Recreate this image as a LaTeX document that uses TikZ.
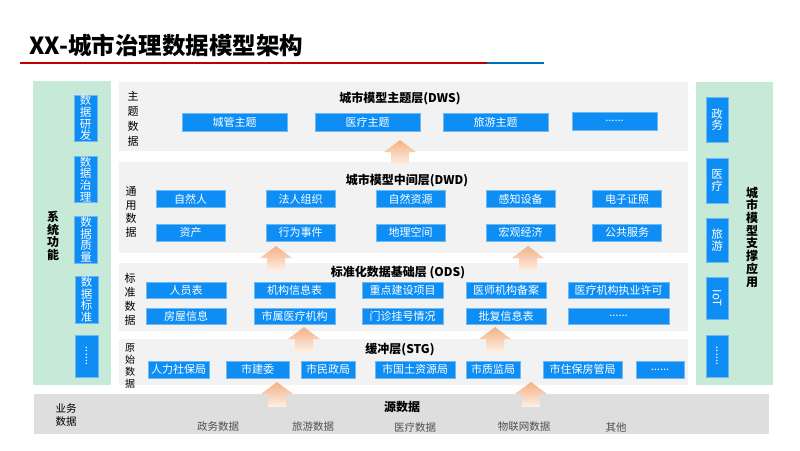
\documentclass[tikz,border=0pt]{standalone}
\usepackage{fontspec}
\setmainfont{Noto Sans CJK SC}
\usepackage{tikz}
\usepackage{xcolor}

\definecolor{boxblue}{RGB}{14,142,245}
\definecolor{boxedge}{RGB}{110,185,240}
\definecolor{laygray}{RGB}{242,242,242}
\definecolor{srcgray}{RGB}{222,222,222}
\definecolor{panelgreen}{RGB}{199,234,216}
\definecolor{arrtop}{RGB}{244,177,131}
\definecolor{arrbot}{RGB}{253,240,230}
\definecolor{titlered}{RGB}{192,0,0}
\definecolor{titleblue}{RGB}{0,112,192}
\definecolor{srctext}{RGB}{80,80,80}

\begin{document}
\begin{tikzpicture}[x=1pt,y=-1pt,
	layer/.style={fill=laygray, draw=none, inner sep=0},
	bbox/.style={fill=boxblue, draw=boxedge, line width=0.5pt, text=white, inner sep=0, font=\fontsize{11}{12}\selectfont},
	vbox/.style={fill=boxblue, draw=boxedge, line width=0.5pt, text=white, inner sep=0, minimum width=23, align=center, font=\fontsize{11.5}{11.7}\selectfont},
	ltitle/.style={font=\bfseries\fontsize{12}{14}\selectfont},
	vlabel/.style={align=center, inner sep=0},
	srcitem/.style={text=srctext, font=\fontsize{10.5}{12}\selectfont},
	uparr/.pic={\shade[top color=arrtop, bottom color=arrbot]
		(-16,12) -- (0,0) -- (16,12) -- (9,12) -- (9,25) -- (-9,25) -- (-9,12) -- cycle;}]
\useasboundingbox (0,0) rectangle (800,450);
\fill[white] (0,0) rectangle (800,450);

% title
\node[anchor=west, font=\bfseries\fontsize{23.5}{26}\selectfont] (title) at (26,45) {XX-城市治理数据模型架构};
\coordinate (lineA) at (20,63);
\coordinate (lineB) at (487,63);
\coordinate (lineC) at (544,63);
\draw[titlered, line width=2.2pt] (lineA) -- (lineB);
\draw[titleblue, line width=2.2pt] (lineB) -- (lineC);

% side panels
\node[fill=panelgreen, inner sep=0, minimum width=78, minimum height=304] (sysP) at (72,233) {};
\node[fill=panelgreen, inner sep=0, minimum width=77, minimum height=303] (appP) at (734.5,233.5) {};
\node[vlabel, font=\bfseries\fontsize{12}{12.5}\selectfont] (sysT) at (53,236) {系\\统\\功\\能};
\node[vlabel, font=\bfseries\fontsize{12}{12.7}\selectfont] (appT) at (752,237) {城\\市\\模\\型\\支\\撑\\应\\用};

\node[vbox, minimum height=46] (sys1) at (85.5,118) {数\\据\\研\\发};
\node[vbox, minimum height=46] (sys2) at (85.5,179) {数\\据\\治\\理};
\node[vbox, minimum height=47] (sys3) at (86,239.5) {数\\据\\质\\量};
\node[vbox, minimum height=47] (sys4) at (86.5,299.5) {数\\据\\标\\准};
\node[vbox, minimum height=42] (sys5) at (86.5,356) {\rotatebox{90}{......}};

\node[vbox, minimum width=22, minimum height=45] (app1) at (717,119.5) {政\\务};
\node[vbox, minimum width=22, minimum height=45] (app2) at (717,180.5) {医\\疗};
\node[vbox, minimum width=22, minimum height=44] (app3) at (717,240) {旅\\游};
\node[vbox, minimum width=22, minimum height=42] (app4) at (717,298) {\rotatebox{-90}{IoT}};
\node[vbox, minimum width=22, minimum height=42] (app5) at (717,356) {\rotatebox{90}{......}};

% layers
\node[layer, minimum width=569, minimum height=69] (dws) at (403.5,116.5) {};
\node[layer, minimum width=569, minimum height=91] (dwd) at (403.5,207.5) {};
\node[layer, minimum width=569, minimum height=68] (ods) at (403.5,297) {};
\node[layer, minimum width=569, minimum height=46] (stg) at (403.5,362) {};
\node[fill=srcgray, inner sep=0, minimum width=735, minimum height=40] (src) at (401.5,414) {};

% DWS
\node[ltitle] (dwsT) at (400,99) {城市模型主题层(DWS)};
\node[vlabel, font=\fontsize{11}{15}\selectfont] (dwsL) at (133,118.5) {主\\题\\数\\据};
\node[bbox, minimum width=105, minimum height=18] (dws1) at (234.5,122) {城管主题};
\node[bbox, minimum width=105, minimum height=18] (dws2) at (367.5,122) {医疗主题};
\node[bbox, minimum width=105, minimum height=18] (dws3) at (495.5,122) {旅游主题};
\node[bbox, minimum width=85, minimum height=18] (dws4) at (614.5,121) {......};

% DWD
\node[ltitle] (dwdT) at (407,181) {城市模型中间层(DWD)};
\node[vlabel, font=\fontsize{11}{13.8}\selectfont] (dwdL) at (131,212) {通\\用\\数\\据};
\node[bbox, minimum width=69, minimum height=17] (dwd1) at (190.5,199) {自然人};
\node[bbox, minimum width=69, minimum height=17] (dwd2) at (300.5,199) {法人组织};
\node[bbox, minimum width=69, minimum height=17] (dwd3) at (410.5,199) {自然资源};
\node[bbox, minimum width=69, minimum height=17] (dwd4) at (520.5,199) {感知设备};
\node[bbox, minimum width=69, minimum height=17] (dwd5) at (627,199) {电子证照};
\node[bbox, minimum width=69, minimum height=17] (dwd6) at (190.5,232.5) {资产};
\node[bbox, minimum width=69, minimum height=17] (dwd7) at (300.5,232.5) {行为事件};
\node[bbox, minimum width=69, minimum height=17] (dwd8) at (410.5,232.5) {地理空间};
\node[bbox, minimum width=69, minimum height=17] (dwd9) at (520.5,232.5) {宏观经济};
\node[bbox, minimum width=69, minimum height=17] (dwd10) at (627,232.5) {公共服务};

% ODS
\node[ltitle] (odsT) at (398,273) {标准化数据基础层 (ODS)};
\node[vlabel, font=\fontsize{11}{14}\selectfont] (odsL) at (130,299) {标\\准\\数\\据};
\node[bbox, minimum width=80, minimum height=16] (ods1) at (186,290) {人员表};
\node[bbox, minimum width=81, minimum height=16] (ods2) at (294.5,290) {机构信息表};
\node[bbox, minimum width=81, minimum height=16] (ods3) at (402.5,290) {重点建设项目};
\node[bbox, minimum width=80, minimum height=16] (ods4) at (506,290) {医师机构备案};
\node[bbox, minimum width=101, minimum height=16] (ods5) at (618.5,290) {医疗机构执业许可};
\node[bbox, minimum width=80, minimum height=16] (ods6) at (186,316) {房屋信息};
\node[bbox, minimum width=81, minimum height=16] (ods7) at (294.5,316) {市属医疗机构};
\node[bbox, minimum width=81, minimum height=16] (ods8) at (402.5,316) {门诊挂号情况};
\node[bbox, minimum width=80, minimum height=16] (ods9) at (506,316) {批复信息表};
\node[bbox, minimum width=101, minimum height=16] (ods10) at (618.5,316) {......};

% STG
\node[ltitle] (stgT) at (400,350) {缓冲层(STG)};
\node[vlabel, font=\fontsize{10}{12}\selectfont] (stgL) at (130,366) {原\\始\\数\\据};
\node[bbox, minimum width=61, minimum height=17] (stg1) at (178.5,369.5) {人力社保局};
\node[bbox, minimum width=63, minimum height=17] (stg2) at (257.5,369.5) {市建委};
\node[bbox, minimum width=54, minimum height=17] (stg3) at (328,369.5) {市民政局};
\node[bbox, minimum width=80, minimum height=17] (stg4) at (415,369.5) {市国土资源局};
\node[bbox, minimum width=54, minimum height=17] (stg5) at (493,369.5) {市质监局};
\node[bbox, minimum width=79, minimum height=17] (stg6) at (582.5,369.5) {市住保房管局};
\node[bbox, minimum width=48, minimum height=17] (stg7) at (660,369.5) {......};

% source data
\node[ltitle] (srcT) at (402,407) {源数据};
\node[anchor=west, align=left, font=\fontsize{10.5}{13.5}\selectfont] (srcL) at (52,415) {业务\\数据};
\node[srcitem] (src1) at (218,427) {政务数据};
\node[srcitem] (src2) at (313,427) {旅游数据};
\node[srcitem] (src3) at (415,427) {医疗数据};
\node[srcitem] (src4) at (524,427) {物联网数据};
\node[srcitem] (src5) at (616,427) {其他};

% arrows between layers
\pic (up1) at (400,140) {uparr};
\pic (up2) at (276,246) {uparr};
\pic (up3) at (528,246) {uparr};
\pic (up4) at (304,327) {uparr};
\pic (up5) at (495,327) {uparr};
\pic (up6) at (277,382) {uparr};
\pic (up7) at (531,382) {uparr};
\end{tikzpicture}
\end{document}
